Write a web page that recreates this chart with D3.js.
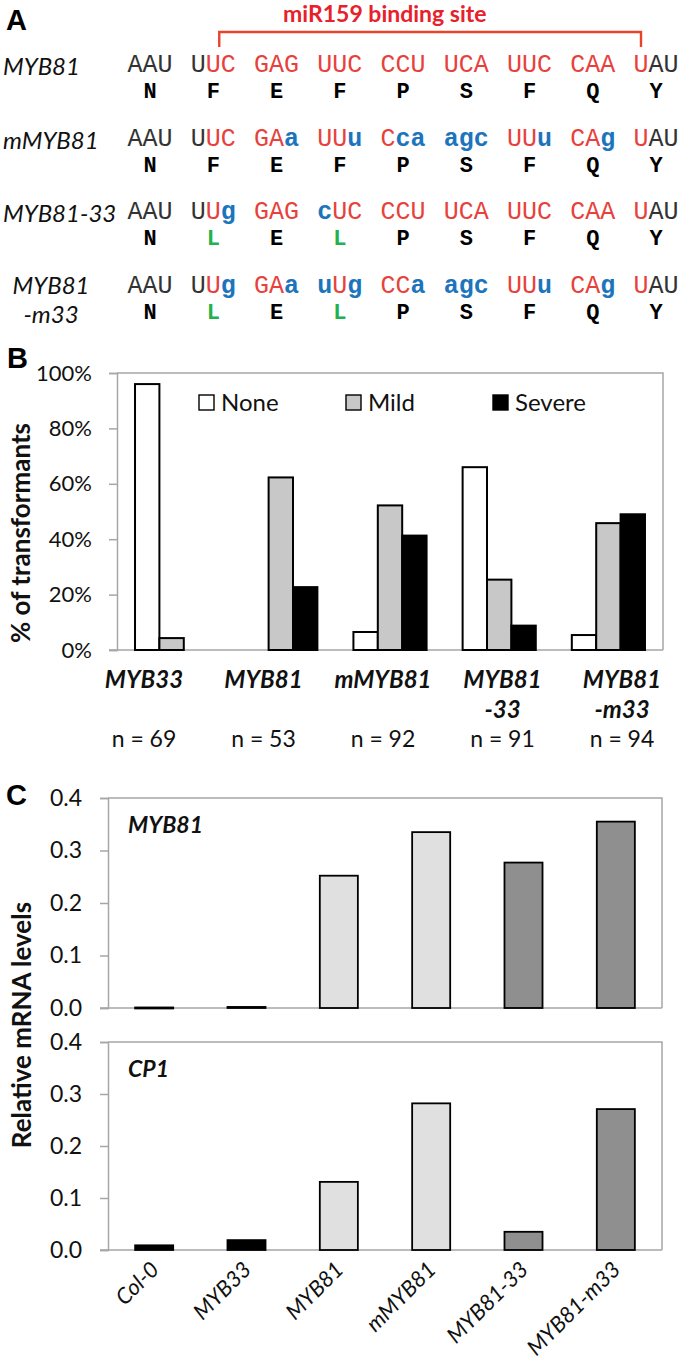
<!DOCTYPE html>
<html><head><meta charset="utf-8">
<script src="https://cdn.jsdelivr.net/npm/d3@7"></script>
<style>
body{margin:0;background:#fff;}
svg{display:block;}
text{font-family:Lato,"Open Sans",sans-serif;}
.mono{font-family:"Liberation Mono","DejaVu Sans Mono",monospace;}
.panel{font-family:"Liberation Sans",Arial,sans-serif;font-weight:bold;font-size:29px;}
</style></head>
<body>
<svg id="fig" width="681" height="1364"></svg>
<script>
// ---------- Panel A data ----------
const seqNames = [["MYB81"], ["mMYB81"], ["MYB81-33"], ["MYB81", "-m33"]];
const codonSeqs = [
  "AAU UUC GAG UUC CCU UCA UUC CAA UAU",
  "AAU UUC GAa UUu Cca agc UUu CAg UAU",
  "AAU UUg GAG cUC CCU UCA UUC CAA UAU",
  "AAU UUg GAa uUg CCa agc UUu CAg UAU"
];
// lowercase = changed residue (shown in green)
const aminoSeqs = ["NFEFPSFQY", "NFEFPSFQY", "NlElPSFQY", "NlElPSFQY"];
const bindingSiteNt = [4, 24]; // nucleotide indices (first, last) of miR159 site
const bindingLabel = "miR159 binding site";

// ---------- Panel B data ----------
const groupsB = ["MYB33", "MYB81", "mMYB81", "MYB81-33", "MYB81-m33"];
const groupLinesB = [["MYB33"], ["MYB81"], ["mMYB81"], ["MYB81", "-33"], ["MYB81", "-m33"]];
const nCounts = [69, 53, 92, 91, 94];
const seriesB = ["None", "Mild", "Severe"];
const noneVals = [96, 0, 6.5, 66, 5.4];
const mildVals = [4.3, 62.3, 52.2, 25.4, 45.8];
const severeVals = [0, 22.7, 41.3, 8.8, 49];
const ticksB = [0, 20, 40, 60, 80, 100];

// ---------- Panel C data ----------
const catsC = ["Col-0", "MYB33", "MYB81", "mMYB81", "MYB81-33", "MYB81-m33"];
const myb81Vals = [0.001, 0.002, 0.252, 0.335, 0.277, 0.355];
const cp1Vals = [0.009, 0.019, 0.131, 0.282, 0.035, 0.271];
const ticksC = [0, 0.1, 0.2, 0.3, 0.4];

// ---------- styles ----------
const RED = "#e8413c", BLUE = "#1c75bc", GREEN = "#22b14c", DARK = "#333";
const AXIS = "#a6a6a6";
const seriesFill = ["#ffffff", "#c8c8c8", "#000000"];
const catFillC = ["#000000", "#000000", "#e0e0e0", "#e0e0e0", "#8f8f8f", "#8f8f8f"];

const svg = d3.select("#fig");

// ================= Panel A =================
const gA = svg.append("g");
gA.append("text").attr("class", "panel").attr("x", 6).attr("y", 30).text("A");
const CHAR_W = 15;
const codonX = d3.scaleLinear().domain([0, 8]).range([150, 656]);
const rowY = d3.scaleLinear().domain([0, 3]).range([73, 294]);
const ntX = k => codonX(Math.floor(k / 3)) + ((k % 3) - 1) * CHAR_W;

const bx0 = ntX(bindingSiteNt[0]) + 6, bx1 = ntX(bindingSiteNt[1]);
gA.append("path").attr("d", `M${bx0},47V32H${bx1}V47`).attr("fill", "none")
  .attr("stroke", "#e9432a").attr("stroke-width", 2.4);
gA.append("text").attr("x", 283).attr("y", 22)
  .attr("font-weight", "bold").attr("font-size", 23).attr("fill", "#e8202a").text(bindingLabel);

seqNames.forEach((lines, r) => {
  const y = rowY(r);
  if (lines.length === 1) {
    gA.append("text").attr("x", 3).attr("y", y + 2).attr("font-style", "italic").attr("font-size", 24)
      .attr("fill", "#111").text(lines[0]);
  } else {
    lines.forEach((l, i) => gA.append("text").attr("x", 51).attr("y", y + i * 29)
      .attr("text-anchor", "middle").attr("font-style", "italic").attr("font-size", 24)
      .attr("fill", "#111").text(l));
  }
  const codons = codonSeqs[r].split(" ");
  codons.forEach((c, ci) => {
    const t = gA.append("text").attr("class", "mono").attr("x", codonX(ci)).attr("y", y - 1)
      .attr("text-anchor", "middle").attr("font-size", 25);
    c.split("").forEach((ch, j) => {
      const k = ci * 3 + j;
      const lower = ch !== ch.toUpperCase();
      const inSite = k >= bindingSiteNt[0] && k <= bindingSiteNt[1];
      t.append("tspan").text(ch)
        .attr("fill", lower ? BLUE : (inSite ? RED : DARK))
        .attr("font-weight", lower ? "bold" : "normal");
    });
  });
  aminoSeqs[r].split("").forEach((aa, ai) => {
    const changed = aa !== aa.toUpperCase();
    gA.append("text").attr("class", "mono").attr("x", codonX(ai)).attr("y", y + 25)
      .attr("text-anchor", "middle").attr("font-size", 22).attr("font-weight", "bold")
      .attr("fill", changed ? GREEN : "#000").text(aa.toUpperCase());
  });
});

// ================= Panel B =================
const gB = svg.append("g");
gB.append("text").attr("class", "panel").attr("x", 7).attr("y", 368).text("B");
const xB = d3.scaleBand().domain(groupsB).range([117, 663]).paddingInner(0.33).paddingOuter(0.165);
const xSub = d3.scaleBand().domain(seriesB).range([0, xB.bandwidth()]);
const yB = d3.scaleLinear().domain([0, 100]).range([650, 373]);
const valsB = [noneVals, mildVals, severeVals];

// frame
gB.append("path").attr("d", `M117,${yB(100)}H663V${yB(0)}`).attr("fill", "none")
  .attr("stroke", AXIS).attr("stroke-width", 1.5);
const axB = gB.append("g").attr("transform", "translate(117,0)")
  .call(d3.axisLeft(yB).tickValues(ticksB).tickSize(8).tickPadding(17).tickFormat(d => d + "%"));
axB.selectAll("path,line").attr("stroke", AXIS).attr("stroke-width", 1.5);
axB.selectAll("text").attr("font-size", 22).attr("fill", "#111").attr("font-family", "Lato");
gB.append("line").attr("x1", 109).attr("x2", 663).attr("y1", yB(0)).attr("y2", yB(0))
  .attr("stroke", AXIS).attr("stroke-width", 1.5);

groupsB.forEach((g, gi) => {
  seriesB.forEach((s, si) => {
    const v = valsB[si][gi];
    if (v <= 0) return;
    gB.append("rect").attr("x", xB(g) + xSub(s)).attr("width", xSub.bandwidth())
      .attr("y", yB(v)).attr("height", yB(0) - yB(v))
      .attr("fill", seriesFill[si]).attr("stroke", "#000").attr("stroke-width", 2);
  });
});

// legend
const legX = d3.scalePoint().domain(seriesB).range([199, 493]);
seriesB.forEach((s, si) => {
  gB.append("rect").attr("x", legX(s)).attr("y", 395).attr("width", 15).attr("height", 15)
    .attr("fill", seriesFill[si]).attr("stroke", "#000").attr("stroke-width", 1.4);
  gB.append("text").attr("x", legX(s) + 22).attr("y", 411).attr("font-size", 24).attr("fill", "#111").text(s);
});

// category labels
const labX = d3.scalePoint().domain(groupsB).range([144, 622]);
groupsB.forEach((g, gi) => {
  groupLinesB[gi].forEach((l, li) => {
    gB.append("text").attr("x", labX(g)).attr("y", 688 + li * 30).attr("text-anchor", "middle")
      .attr("font-weight", "bold").attr("font-style", "italic").attr("font-size", 24).attr("fill", "#111").text(l);
  });
  gB.append("text").attr("x", labX(g)).attr("y", 747).attr("text-anchor", "middle")
    .attr("font-size", 23).attr("fill", "#111").text("n = " + nCounts[gi]);
});
gB.append("text").attr("transform", "translate(30,533) rotate(-90)")
  .attr("text-anchor", "middle").attr("font-weight", "bold").attr("font-size", 26).attr("fill", "#111")
  .text("% of transformants");

// ================= Panel C =================
const gC = svg.append("g");
gC.append("text").attr("class", "panel").attr("x", 6).attr("y", 805).text("C");
const xC = d3.scaleBand().domain(catsC).range([108, 662]).paddingInner(0.588).paddingOuter(0.294);
const colorC = d3.scaleOrdinal().domain(catsC).range(catFillC);

function subPanel(vals, y0, y1, name, showX) {
  const y = d3.scaleLinear().domain([0, 0.4]).range([y0, y1]);
  const g = gC.append("g");
  g.append("path").attr("d", `M108,${y(0.4)}H662V${y(0)}`).attr("fill", "none")
    .attr("stroke", AXIS).attr("stroke-width", 1.5);
  const ax = g.append("g").attr("transform", "translate(108,0)")
    .call(d3.axisLeft(y).tickValues(ticksC).tickSize(8).tickPadding(18).tickFormat(d3.format(".1f")));
  ax.selectAll("path,line").attr("stroke", AXIS).attr("stroke-width", 1.5);
  ax.selectAll("text").attr("font-size", 23).attr("fill", "#111").attr("font-family", "Lato");
  g.append("line").attr("x1", 100).attr("x2", 662).attr("y1", y(0)).attr("y2", y(0))
    .attr("stroke", AXIS).attr("stroke-width", 1.5);
  catsC.forEach((c, i) => {
    g.append("rect").attr("x", xC(c)).attr("width", xC.bandwidth())
      .attr("y", y(vals[i])).attr("height", Math.max(1, y(0) - y(vals[i])))
      .attr("fill", colorC(c)).attr("stroke", "#000").attr("stroke-width", 1.8);
  });
  g.append("text").attr("x", 128).attr("y", y(0.4) + 35).attr("font-weight", "bold")
    .attr("font-style", "italic").attr("font-size", 23).attr("fill", "#111").text(name);
  if (showX) {
    catsC.forEach(c => {
      g.append("text").attr("transform", `translate(${xC(c) + xC.bandwidth() / 2 + 6},${y(0) + 21}) rotate(-45)`)
        .attr("text-anchor", "end").attr("font-style", "italic").attr("font-size", 22)
        .attr("fill", "#111").text(c);
    });
  }
}
subPanel(myb81Vals, 1008, 798, "MYB81", false);
subPanel(cp1Vals, 1250, 1042, "CP1", true);
gC.append("text").attr("transform", "translate(31,1025) rotate(-90)").attr("text-anchor", "middle")
  .attr("font-weight", "bold").attr("font-size", 26).attr("fill", "#111").text("Relative mRNA levels");
</script>
</body></html>
